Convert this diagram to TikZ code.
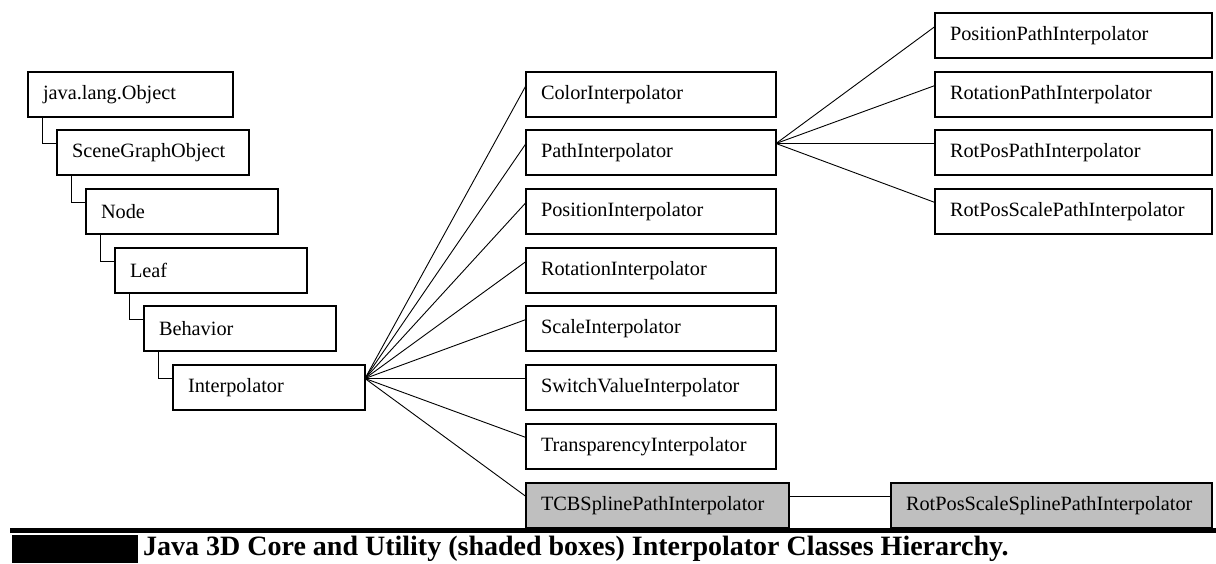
\documentclass[tikz,border=0pt]{standalone}
\usepackage{fontspec}
\setmainfont{Liberation Serif}
\usetikzlibrary{calc}

\begin{document}
\begin{tikzpicture}[x=1pt,y=-1pt,
    cls/.style={draw,line width=1.6pt,anchor=north west,outer sep=0pt,
      minimum height=45pt,inner xsep=15pt,inner ysep=0pt,align=left,
      text width=#1,font=\fontsize{20.3}{22}\selectfont},
    util/.style={cls=#1,fill=black!25},
    link/.style={line width=0.9pt}]
    \useasboundingbox (0,0) rectangle (1216,563);
    % core chain
    \node[cls=175pt] (obj) at (28,72) {java.lang.Object};
    \node[cls=162pt] (sgo) at (57,130) {SceneGraphObject};
    \node[cls=162pt] (nd) at (86,189) {Node};
    \node[cls=162pt] (leaf) at (115,248) {Leaf};
    \node[cls=162pt] (behav) at (144,306) {Behavior};
    \node[cls=162pt] (interp) at (173,365) {Interpolator};
    \draw[link] ([xshift=14pt]obj.south west) |- ([yshift=-13.5pt]sgo.north west);
    \draw[link] ([xshift=14pt]sgo.south west) |- ([yshift=-13.5pt]nd.north west);
    \draw[link] ([xshift=14pt]nd.south west) |- ([yshift=-13.5pt]leaf.north west);
    \draw[link] ([xshift=14pt]leaf.south west) |- ([yshift=-13.5pt]behav.north west);
    \draw[link] ([xshift=14pt]behav.south west) |- ([yshift=-13.5pt]interp.north west);
    % interpolator subclasses
    \node[cls=220pt] (color) at (526,72) {ColorInterpolator};
    \node[cls=220pt] (path) at (526,130) {PathInterpolator};
    \node[cls=220pt] (pos) at (526,189) {PositionInterpolator};
    \node[cls=220pt] (rot) at (526,248) {RotationInterpolator};
    \node[cls=220pt] (scale) at (526,306) {ScaleInterpolator};
    \node[cls=220pt] (switch) at (526,365) {SwitchValueInterpolator};
    \node[cls=220pt] (transp) at (526,424) {TransparencyInterpolator};
    \node[util=233pt] (tcb) at (526,483) {TCBSplinePathInterpolator};
    \coordinate (fan) at ([yshift=-13.5pt]interp.north east);
    \draw[link] (fan) -- ([yshift=-13.5pt]color.north west);
    \draw[link] (fan) -- ([yshift=-13.5pt]path.north west);
    \draw[link] (fan) -- ([yshift=-13.5pt]pos.north west);
    \draw[link] (fan) -- ([yshift=-13.5pt]rot.north west);
    \draw[link] (fan) -- ([yshift=-13.5pt]scale.north west);
    \draw[link] (fan) -- ([yshift=-13.5pt]switch.north west);
    \draw[link] (fan) -- ([yshift=-13.5pt]transp.north west);
    \draw[link] (fan) -- ([yshift=-13.5pt]tcb.north west);
    % path interpolator subclasses
    \node[cls=247pt] (pospath) at (935,13) {PositionPathInterpolator};
    \node[cls=247pt] (rotpath) at (935,72) {RotationPathInterpolator};
    \node[cls=247pt] (rppath) at (935,130) {RotPosPathInterpolator};
    \node[cls=247pt] (rpspath) at (935,189) {RotPosScalePathInterpolator};
    \coordinate (pfan) at ([yshift=-13.5pt]path.north east);
    \draw[link] (pfan) -- ([yshift=-13.5pt]pospath.north west);
    \draw[link] (pfan) -- ([yshift=-13.5pt]rotpath.north west);
    \draw[link] (pfan) -- ([yshift=-13.5pt]rppath.north west);
    \draw[link] (pfan) -- ([yshift=-13.5pt]rpspath.north west);
    \node[util=291pt] (spline) at (891,483) {RotPosScaleSplinePathInterpolator};
    \draw[link] ([yshift=-13.5pt]tcb.north east) -- ([yshift=-13.5pt]spline.north west);
    % caption
    \draw[line width=5.5pt] (10,530.5) -- (1216,530.5);
    \fill (12,535) rectangle (138,563);
    \node[anchor=base west,inner sep=0pt,font=\bfseries\fontsize{28}{30}\selectfont] (cap) at (143,555)
      {Java 3D Core and Utility (shaded boxes) Interpolator Classes Hierarchy.};
  \end{tikzpicture}
\end{document}
